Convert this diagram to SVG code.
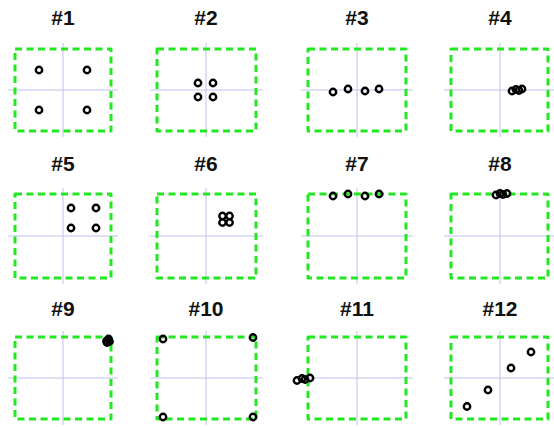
<svg xmlns="http://www.w3.org/2000/svg" width="554" height="427" viewBox="0 0 554 427">
<style>
.t{font-family:"Liberation Sans",Arial,sans-serif;font-weight:bold;font-size:21px;text-anchor:middle;fill:#111}
.b{fill:none;stroke:#22e822;stroke-width:3;stroke-dasharray:7 4.5;stroke-linejoin:round;stroke-linecap:butt}
.x{stroke:#c0c0f2;stroke-width:1}
.d{fill:none;stroke:#000;stroke-width:2.4}
</style>
<rect width="554" height="427" fill="#fff"/>
<g id="p1">
<text class="t" x="63" y="25">#1</text>
<line class="x" x1="63" y1="43" x2="63" y2="137"/><line class="x" x1="8" y1="90" x2="118" y2="90"/>
<rect class="b" x="15" y="49" width="96" height="82"/>
<circle class="d" cx="39" cy="70" r="3.2"/><circle class="d" cx="87" cy="70" r="3.2"/><circle class="d" cx="39" cy="110" r="3.2"/><circle class="d" cx="87" cy="110" r="3.2"/>
</g>
<g id="p2">
<text class="t" x="206" y="25">#2</text>
<line class="x" x1="206" y1="43" x2="206" y2="137"/><line class="x" x1="150" y1="90" x2="263" y2="90"/>
<rect class="b" x="157" y="49" width="99" height="82"/>
<circle class="d" cx="198" cy="83" r="3.2"/><circle class="d" cx="213" cy="83" r="3.2"/><circle class="d" cx="198" cy="97" r="3.2"/><circle class="d" cx="213" cy="97" r="3.2"/>
</g>
<g id="p3">
<text class="t" x="357" y="25">#3</text>
<line class="x" x1="357" y1="43" x2="357" y2="137"/><line class="x" x1="301" y1="90" x2="413" y2="90"/>
<rect class="b" x="308" y="49" width="98" height="82"/>
<circle class="d" cx="333" cy="92" r="3.2"/><circle class="d" cx="348" cy="89" r="3.2"/><circle class="d" cx="365" cy="91" r="3.2"/><circle class="d" cx="379" cy="89" r="3.2"/>
</g>
<g id="p4">
<text class="t" x="500" y="25">#4</text>
<line class="x" x1="500" y1="43" x2="500" y2="137"/><line class="x" x1="444" y1="90" x2="554" y2="90"/>
<rect class="b" x="451" y="49" width="97" height="82"/>
<circle class="d" cx="512" cy="91" r="3.2"/><circle class="d" cx="516" cy="89.5" r="3.2"/><circle class="d" cx="519" cy="90.5" r="3.2"/><circle class="d" cx="522" cy="89" r="3.2"/>
</g>
<g id="p5">
<text class="t" x="63" y="171">#5</text>
<line class="x" x1="63" y1="188" x2="63" y2="284"/><line class="x" x1="8" y1="236" x2="118" y2="236"/>
<rect class="b" x="15" y="194" width="96" height="84"/>
<circle class="d" cx="71" cy="208" r="3.2"/><circle class="d" cx="96" cy="208" r="3.2"/><circle class="d" cx="71" cy="228" r="3.2"/><circle class="d" cx="96" cy="228" r="3.2"/>
</g>
<g id="p6">
<text class="t" x="206" y="171">#6</text>
<line class="x" x1="206" y1="188" x2="206" y2="284"/><line class="x" x1="150" y1="236" x2="263" y2="236"/>
<rect class="b" x="157" y="194" width="99" height="84"/>
<circle class="d" cx="222.5" cy="216" r="3.2"/><circle class="d" cx="229.5" cy="216" r="3.2"/><circle class="d" cx="222.5" cy="222.5" r="3.2"/><circle class="d" cx="229.5" cy="222.5" r="3.2"/>
</g>
<g id="p7">
<text class="t" x="357" y="171">#7</text>
<line class="x" x1="357" y1="188" x2="357" y2="284"/><line class="x" x1="301" y1="236" x2="413" y2="236"/>
<rect class="b" x="308" y="194" width="98" height="84"/>
<circle class="d" cx="333" cy="196" r="3.2"/><circle class="d" cx="348" cy="194" r="3.2"/><circle class="d" cx="365" cy="196" r="3.2"/><circle class="d" cx="379" cy="194" r="3.2"/>
</g>
<g id="p8">
<text class="t" x="500" y="171">#8</text>
<line class="x" x1="500" y1="188" x2="500" y2="284"/><line class="x" x1="444" y1="236" x2="554" y2="236"/>
<rect class="b" x="451" y="194" width="97" height="84"/>
<circle class="d" cx="496" cy="195" r="3.2"/><circle class="d" cx="500" cy="193.5" r="3.2"/><circle class="d" cx="503" cy="194.5" r="3.2"/><circle class="d" cx="507" cy="193.5" r="3.2"/>
</g>
<g id="p9">
<text class="t" x="63" y="316">#9</text>
<line class="x" x1="63" y1="331" x2="63" y2="425"/><line class="x" x1="8" y1="378" x2="118" y2="378"/>
<rect class="b" x="15" y="337" width="96" height="82"/>
<circle class="d" cx="106.5" cy="341" r="3.2"/><circle class="d" cx="108.5" cy="339" r="3.2"/><circle class="d" cx="107" cy="342.5" r="3.2"/><circle class="d" cx="109.5" cy="341.5" r="3.2"/>
</g>
<g id="p10">
<text class="t" x="206" y="316">#10</text>
<line class="x" x1="206" y1="331" x2="206" y2="425"/><line class="x" x1="150" y1="378" x2="263" y2="378"/>
<rect class="b" x="157" y="337" width="99" height="82"/>
<circle class="d" cx="163" cy="339" r="3.2"/><circle class="d" cx="253" cy="337.5" r="3.2"/><circle class="d" cx="163" cy="417" r="3.2"/><circle class="d" cx="253" cy="417" r="3.2"/>
</g>
<g id="p11">
<text class="t" x="357" y="316">#11</text>
<line class="x" x1="357" y1="331" x2="357" y2="425"/><line class="x" x1="301" y1="378" x2="413" y2="378"/>
<rect class="b" x="308" y="337" width="98" height="82"/>
<circle class="d" cx="297" cy="380.5" r="3.2"/><circle class="d" cx="302" cy="378.5" r="3.2"/><circle class="d" cx="305" cy="379.5" r="3.2"/><circle class="d" cx="310" cy="378" r="3.2"/>
</g>
<g id="p12">
<text class="t" x="500" y="316">#12</text>
<line class="x" x1="500" y1="331" x2="500" y2="425"/><line class="x" x1="444" y1="378" x2="554" y2="378"/>
<rect class="b" x="451" y="337" width="97" height="82"/>
<circle class="d" cx="467" cy="406.5" r="3.2"/><circle class="d" cx="488" cy="390" r="3.2"/><circle class="d" cx="511" cy="368" r="3.2"/><circle class="d" cx="531" cy="352" r="3.2"/>
</g>
</svg>
